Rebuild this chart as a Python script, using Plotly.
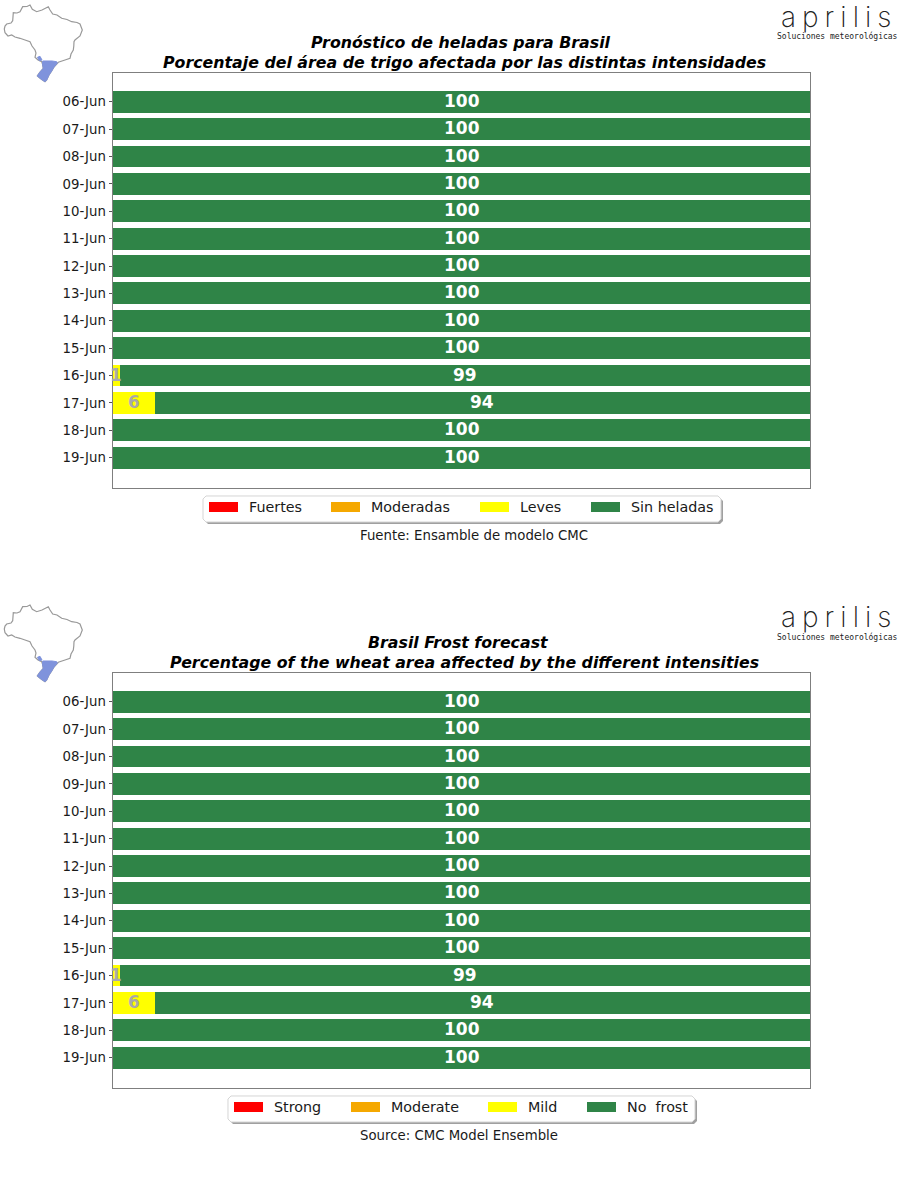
import plotly.graph_objects as go

days = ["06-Jun","07-Jun","08-Jun","09-Jun","10-Jun","11-Jun","12-Jun","13-Jun","14-Jun","15-Jun","16-Jun","17-Jun","18-Jun","19-Jun"]
strong = [0,0,0,0,0,0,0,0,0,0,0,0,0,0]
moderate = [0,0,0,0,0,0,0,0,0,0,0,0,0,0]
mild = [0,0,0,0,0,0,0,0,0,0,1,6,0,0]
none_frost = [100,100,100,100,100,100,100,100,100,100,99,94,100,100]

colors = ["#FF0000","#F5A800","#FFFF00","#2F8447"]
labels_es = ["Fuertes","Moderadas","Leves","Sin heladas"]
labels_en = ["Strong","Moderate","Mild","No  frost"]
title_es = ["Pronóstico de heladas para Brasil", "Porcentaje del área de trigo afectada por las distintas intensidades"]
title_en = ["Brasil Frost forecast", "Percentage of the wheat area affected by the different intensities"]
source_es = "Fuente: Ensamble de modelo CMC"
source_en = "Source: CMC Model Ensemble"

W, H = 900, 1200
FONT = "DejaVu Sans"

def px(x, y):
    return x / W, 1 - y / H

def path(points, close=True):
    s = []
    for i, (x, y) in enumerate(points):
        a, b = px(x, y)
        s.append(("M" if i == 0 else "L") + f"{a:.5f},{b:.5f}")
    return " ".join(s) + (" Z" if close else "")

# map silhouette, in pixels of the inset
outline = [(4.3,29),(5,26),(6.7,24),(11,23),(12.7,20.7),(13.3,12.7),(17,13),(20,11.7),(22.7,6.7),(27,6.5),(30,5),(32.3,9.3),(36.7,11.7),(42,10),(48.3,6.7),(50,10),(52.7,14),(57,15),(61.7,18.3),(67,19.5),(71.7,21.7),(77,22.5),(80,24),(82.3,30),(80,36),(75,40),(74,41.7),(73.8,46),(73.3,50),(71,54),(70,58.3),(65,60),(58.3,62.3),(54,67),(51.7,71),(49,75),(46.7,80),(45,81.7),(41,79),(37.3,76),(40,72),(43.3,68.3),(42.5,64),(41.7,61.7),(38,60),(35,57.3),(36,53),(35,50),(32,46),(30,41.7),(25,40),(20,38.3),(15,37),(11.7,35),(8,36),(5,32.7)]
region = [(42.7,61),(52,61),(56.7,61.7),(57.3,63),(54,67),(51.7,71),(49,75),(46.7,80),(45,81.7),(41,79),(37.3,76),(40,72),(43.3,68.3),(42.5,64)]
region2 = [(37.5,57.3),(40,56.3),(42,60),(39.3,60.7)]

fig = go.Figure()
shapes, annots = [], []

panels = [
    dict(top=72, ax="", title=title_es, tx=[460.5,464], labels=labels_es, source=source_es, sx=474,
         box=(203,721), sw=[209,331,480,591]),
    dict(top=672, ax="2", title=title_en, tx=[458.5,464], labels=labels_en, source=source_en, sx=459,
         box=(228,695), sw=[234,351,488,587]),
]

for p in panels:
    top, ax = p["top"], p["ax"]
    off = top - 72
    xa, ya = "x" + ax, "y" + ax
    for vals, c in zip([strong, moderate, mild, none_frost], colors):
        fig.add_trace(go.Bar(y=days, x=vals, orientation="h", width=0.8, xaxis=xa, yaxis=ya,
                             marker=dict(color=c, line=dict(width=0)), showlegend=False, hoverinfo="x+y"))
    # value labels, placed at the centre of each stacked segment
    for d, m, n in zip(days, mild, none_frost):
        for v, cx, col in ((m, m / 2, "#A9A9A9"), (n, m + n / 2, "#FFFFFF")):
            if v:
                annots.append(dict(text=str(v), x=cx, y=d, xref=xa, yref=ya, showarrow=False, yshift=1,
                                   xanchor="center", yanchor="middle",
                                   font=dict(family=FONT, size=17, color=col, weight="bold")))
    fig.update_layout({
        "xaxis" + ax: dict(domain=[113/W, 810/W], range=[0,100], showticklabels=False, ticks="", showgrid=False,
                           zeroline=False, showline=True, mirror=True, linecolor="#7f7f7f", linewidth=1,
                           anchor=ya),
        "yaxis" + ax: dict(domain=[1-(top+416)/H, 1-(top+0.5)/H], type="category", categoryorder="array", categoryarray=days,
                           range=[14.11,-1.07], showgrid=False, zeroline=False, showline=True, mirror=True,
                           linecolor="#7f7f7f", linewidth=1, ticks="outside", ticklen=3.5, tickcolor="#555555",
                           tickfont=dict(family=FONT, size=13.3, color="#1a1a1a"), anchor=xa),
    })
    # title lines and source
    for line, tx, ty in zip(p["title"], p["tx"], (top - 30, top - 9.5)):
        a, b = px(tx, ty)
        annots.append(dict(text=line, x=a, y=b, xref="paper", yref="paper", showarrow=False, xanchor="center", yanchor="middle",
                           font=dict(family=FONT, size=15.8, color="black", style="italic", weight="bold")))
    a, b = px(p["sx"], top + 463)
    annots.append(dict(text=p["source"], x=a, y=b, xref="paper", yref="paper", showarrow=False, xanchor="center", yanchor="middle",
                       font=dict(family=FONT, size=13.3, color="#1a1a1a")))
    # legend frame with shadow
    x0, x1 = p["box"]
    y0, y1 = top + 424, top + 450
    r = 3
    def rounded(dx, dy):
        return [(x0+r+dx,y0+dy),(x1-r+dx,y0+dy),(x1+dx,y0+r+dy),(x1+dx,y1-r+dy),(x1-r+dx,y1+dy),(x0+r+dx,y1+dy),(x0+dx,y1-r+dy),(x0+dx,y0+r+dy)]
    shapes.append(dict(type="path", path=path(rounded(2,2)), xref="paper", yref="paper", fillcolor="#a0a0a0", line=dict(width=0)))
    shapes.append(dict(type="path", path=path(rounded(0,0)), xref="paper", yref="paper", fillcolor="white", line=dict(width=1, color="#d5d5d5")))
    for sx, c, lab in zip(p["sw"], colors, p["labels"]):
        shapes.append(dict(type="path", path=path([(sx,top+430),(sx+29,top+430),(sx+29,top+440),(sx,top+440)]),
                           xref="paper", yref="paper", fillcolor=c, line=dict(width=0)))
        a, b = px(sx + 37.5, top + 435)
        annots.append(dict(text=lab, x=a, y=b, xref="paper", yref="paper", showarrow=False, xanchor="left", yanchor="middle",
                           font=dict(family=FONT, size=14.3, color="#1a1a1a")))
    # inset map
    shapes.append(dict(type="path", path=path([(x, y + off) for x, y in outline]), xref="paper", yref="paper",
                       fillcolor="white", line=dict(width=1.2, color="#999999")))
    for poly in (region, region2):
        shapes.append(dict(type="path", path=path([(x, y + off) for x, y in poly]), xref="paper", yref="paper",
                           fillcolor="#7F93DC", line=dict(width=1, color="#7F93DC")))
    # logo
    a, b = px(839, off + 17.5)
    annots.append(dict(text="aprilis", x=a, y=b, xref="paper", yref="paper", showarrow=False, xanchor="center", yanchor="middle",
                       font=dict(family="Inter", size=28, color="#222222", weight=200)))
    a, b = px(837, off + 36.5)
    annots.append(dict(text="Soluciones meteorológicas", x=a, y=b, xref="paper", yref="paper", showarrow=False, xanchor="center", yanchor="middle",
                       font=dict(family="DejaVu Sans Mono", size=8, color="#222222")))

fig.update_layout(width=W, height=H, autosize=False, margin=dict(l=0, r=0, t=0, b=0), paper_bgcolor="white", plot_bgcolor="white",
                  barmode="stack", showlegend=False, shapes=shapes, annotations=annots, font=dict(family=FONT))
post = """document.body.style.margin='0';
document.querySelectorAll('.annotation-text').forEach(function(t){
  if (t.textContent === 'aprilis') { t.style.letterSpacing = '6px'; }
});"""
fig.write_html("out.html", config=dict(displayModeBar=False), post_script=post)
